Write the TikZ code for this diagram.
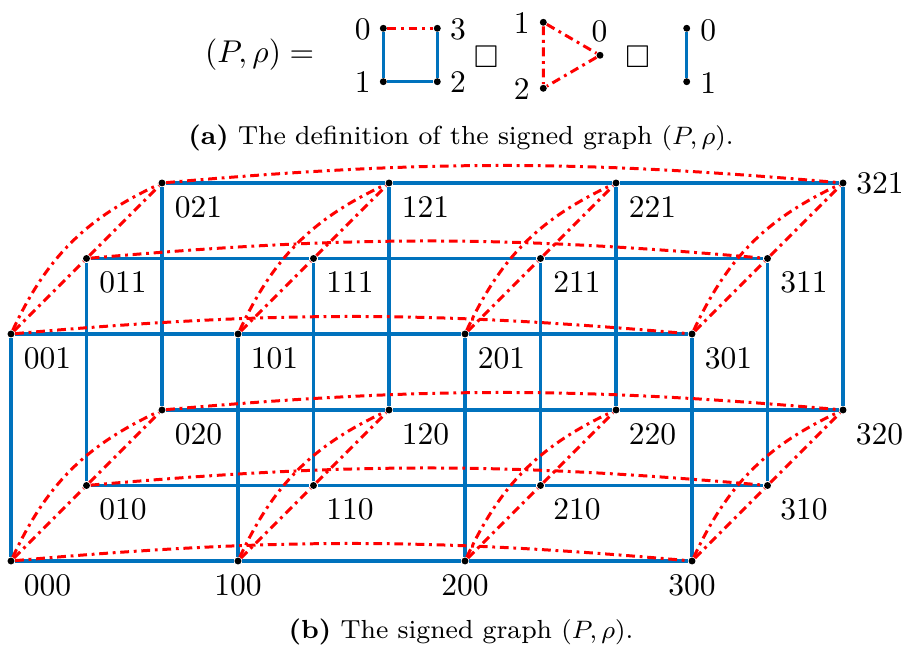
\documentclass[tikz,border=0pt]{standalone}
\usepackage{amssymb}
\definecolor{eblue}{RGB}{0,114,189}
\pgfdeclarelayer{bg}
\pgfsetlayers{bg,main}
\begin{document}
\begin{tikzpicture}[x=0.3175pt,y=-0.3175pt,
  vtx/.style={circle,fill=black,inner sep=0pt,minimum size=2.2pt},
  posedge/.style={draw=eblue,line width=1pt},
  negedge/.style={draw=red,line width=0.95pt,dash pattern=on 2.8pt off 1.5pt on 0.9pt off 1.5pt},
  lbl/.style={inner sep=0pt,font=\fontsize{10}{12}\selectfont},
  captext/.style={inner sep=0pt,anchor=base,font=\fontsize{8.3}{10}\selectfont}]
\useasboundingbox (0,0) rectangle (904,648);

% ---------- (a) definition ----------
\node[lbl] (peq) at (259.7,55) {$(P,\rho) =$};
\node[vtx] (s0) at (383.3,28.3) {};
\node[vtx] (s3) at (437.3,28.3) {};
\node[vtx] (s1) at (383.3,81.7) {};
\node[vtx] (s2) at (437.3,81.7) {};
\node[lbl] (ls0) at (362.7,29.3) {0};
\node[lbl] (ls3) at (458,29.3) {3};
\node[lbl] (ls1) at (362.7,82.5) {1};
\node[lbl] (ls2) at (458,82.5) {2};
\node[lbl] (box1) at (486,56.7) {$\square$};
\node[vtx] (t1) at (543.3,22.3) {};
\node[vtx] (t2) at (543.3,88.3) {};
\node[vtx] (t0) at (600,55.3) {};
\node[lbl] (lt1) at (521.7,23.3) {1};
\node[lbl] (lt2) at (521.7,88.8) {2};
\node[lbl] (lt0) at (599.5,31.7) {0};
\node[lbl] (box2) at (637.7,56.7) {$\square$};
\node[vtx] (e0) at (686.7,28.3) {};
\node[vtx] (e1) at (686.7,81.7) {};
\node[lbl] (le0) at (708.3,30) {0};
\node[lbl] (le1) at (708.3,83.3) {1};
\begin{pgfonlayer}{bg}
  \draw[posedge] (s0)--(s1) (s1)--(s2) (s2)--(s3);
  \draw[negedge] (s0)--(s3);
  \draw[negedge] (t1)--(t0) (t0)--(t2) (t1)--(t2);
  \draw[posedge] (e0)--(e1);
\end{pgfonlayer}
\node[captext] (capa) at (461,144.7) {\textbf{(a)} The definition of the signed graph $(P,\rho)$.};

% ---------- (b) the product graph ----------
\foreach \a in {0,...,3}{\foreach \b in {0,1,2}{\foreach \c in {0,1}{
  \pgfmathsetmacro\px{11+227*\a+75.5*\b}
  \pgfmathsetmacro\py{561-75.5*\b-227*\c}
  \node[vtx] (v\a\b\c) at (\px,\py) {};
}}}
\foreach \n in {000,010,020,001,011,021,101,111,121,201,211,221,110,120,210,220,301,311,310,320}
  \node[lbl] (l\n) at ([shift={(36.5,24)}]v\n) {\n};
\foreach \n in {100,200,300}
  \node[lbl] (l\n) at ([shift={(0,24)}]v\n) {\n};
\node[lbl] (l321) at ([shift={(37,0.5)}]v321) {321};

\begin{pgfonlayer}{bg}
\foreach \b in {0,1,2}{\foreach \c in {0,1}{
  \draw[posedge] (v0\b\c)--(v1\b\c) (v1\b\c)--(v2\b\c) (v2\b\c)--(v3\b\c);
}}
\foreach \a in {0,...,3}{\foreach \b in {0,1,2}{
  \draw[posedge] (v\a\b0)--(v\a\b1);
}}
\foreach \b in {0,1,2}{\foreach \c in {0,1}{
  \draw[negedge] (v0\b\c) to[bend left=5] (v3\b\c);
}}
\foreach \a in {0,...,3}{\foreach \c in {0,1}{
  \draw[negedge] (v\a0\c)--(v\a1\c) (v\a1\c)--(v\a2\c);
  \draw[negedge] (v\a0\c) to[bend left=20] (v\a2\c);
}}
\end{pgfonlayer}
\node[captext] (capb) at (461,638.5) {\textbf{(b)} The signed graph $(P,\rho)$.};
\end{tikzpicture}
\end{document}
